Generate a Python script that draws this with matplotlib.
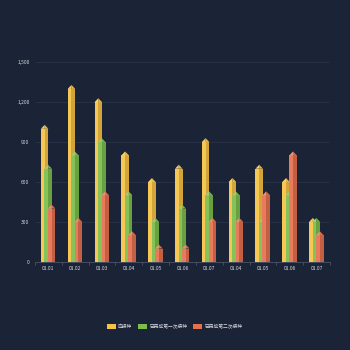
import matplotlib
matplotlib.use("Agg")
import matplotlib.pyplot as plt
from matplotlib.patches import Polygon, Rectangle
import matplotlib.colors as mcolors

plt.rcParams['font.family'] = ['Noto Sans CJK SC', 'DejaVu Sans']

categories = ["01.01", "01.02", "01.03", "01.04", "01.05", "01.06", "01.07",
              "01.04", "01.05", "01.06", "01.07"]
due = [1000, 1300, 1200, 800, 600, 700, 900, 600, 700, 600, 300]
first_dose = [700, 800, 900, 500, 300, 400, 500, 500, 300, 500, 300]
second_dose = [400, 300, 500, 200, 100, 100, 300, 300, 500, 800, 200]
series_names = ["应接种", "已完成第一次接种", "已完成第二次接种"]
yticks = [0, 300, 600, 900, 1200, 1500]

colors = ["#f6c244", "#7cbd4c", "#e6704e"]
bg = "#1b2336"

fig = plt.figure(figsize=(3.5, 3.5), dpi=100, facecolor=bg)
ax = fig.add_axes([0.10, 0.252, 0.843, 0.570])
ax.set_facecolor(bg)

ymax = 1500
ax.set_xlim(-0.5, len(categories) - 0.5)
ax.set_ylim(0, ymax)

offsets = [-0.14, -0.01, 0.12]
width = 0.28
tip = 30


def shade(c, f):
    r, g, b = mcolors.to_rgb(c)
    if f >= 1:
        return (r + (1 - r) * (f - 1), g + (1 - g) * (f - 1), b + (1 - b) * (f - 1))
    return (r * f, g * f, b * f)


for s, (vals, col) in enumerate(zip([due, first_dose, second_dose], colors)):
    for i, v in enumerate(vals):
        x0 = i + offsets[s] - width / 2
        xm = i + offsets[s]
        x1 = i + offsets[s] + width / 2
        z = 3 + s
        ax.add_patch(Rectangle((x0, 0), xm - x0, v, facecolor=shade(col, 1.08),
                               edgecolor="none", zorder=z))
        ax.add_patch(Rectangle((xm, 0), x1 - xm, v, facecolor=shade(col, 0.85),
                               edgecolor="none", zorder=z))
        ax.add_patch(Polygon([(x0, v), (xm, v + tip), (xm, v)], closed=True,
                             facecolor=shade(col, 1.25), edgecolor="none", zorder=z))
        ax.add_patch(Polygon([(xm, v), (xm, v + tip), (x1, v)], closed=True,
                             facecolor=shade(col, 0.95), edgecolor="none", zorder=z))

ax.set_yticks(yticks)
ax.set_yticklabels([f"{t:,}" for t in yticks])
ax.yaxis.grid(True, color="#28324a", linewidth=0.6)
ax.set_axisbelow(True)

ax.set_xticks(range(len(categories)))
ax.set_xticklabels(categories)
ax.set_xticks([i - 0.5 for i in range(len(categories) + 1)], minor=True)

for sp in ["top", "right", "left"]:
    ax.spines[sp].set_visible(False)
ax.spines["bottom"].set_color("#4a5468")
ax.spines["bottom"].set_linewidth(0.6)

ax.tick_params(axis="y", length=0, labelsize=3.5, labelcolor="#d8dbe2", pad=4)
ax.tick_params(axis="x", which="major", length=0, labelsize=3.5, labelcolor="#d8dbe2", pad=3)
ax.tick_params(axis="x", which="minor", length=2, color="#4a5468", width=0.6)

handles = [Rectangle((0, 0), 1, 1, facecolor=c, edgecolor="none") for c in colors]
fig.legend(handles, series_names, loc="center", bbox_to_anchor=(0.499, 0.068), ncol=3,
           frameon=False, fontsize=3.4, labelcolor="#d8dbe2", handlelength=1.9,
           handleheight=1.3, columnspacing=1.3, handletextpad=0.45)

fig.savefig("out.png", dpi=100, facecolor=bg)
